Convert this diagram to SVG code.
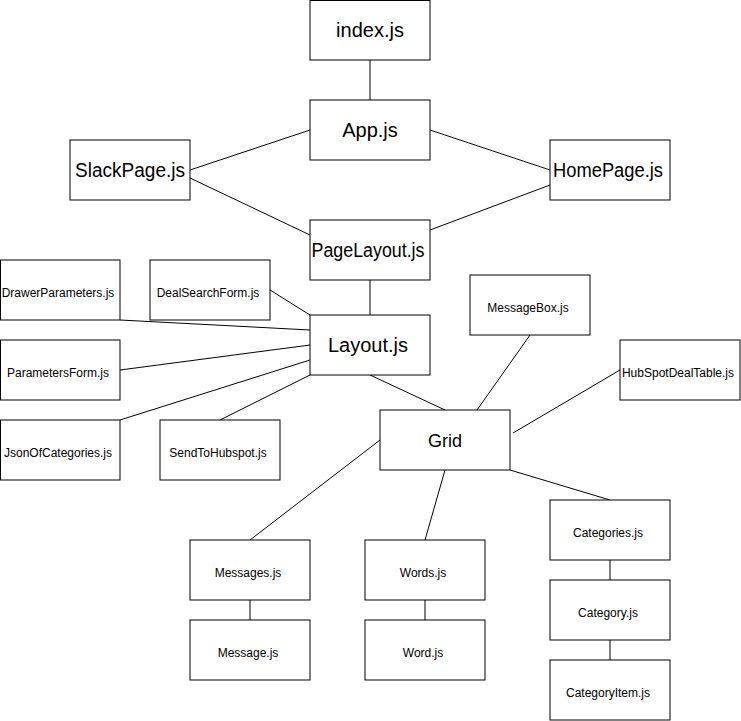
<svg xmlns="http://www.w3.org/2000/svg" width="741" height="721" viewBox="0 0 741 721">
<style>
rect{fill:#fff;stroke:#000;stroke-width:1}
text{font-family:"Liberation Sans",Arial,Helvetica,sans-serif;text-anchor:middle;fill:#000}
.b{font-size:20px}
.s{font-size:12px}
.g{font-size:18px}
#edges line{stroke:#000;stroke-width:1}
</style>
<rect x="0" y="0" width="741" height="721" style="fill:#fff;stroke:none"/>
<g id="edges">
<line x1="370" y1="60" x2="370" y2="100"/>
<line x1="190" y1="170" x2="310" y2="130"/>
<line x1="190" y1="178" x2="310" y2="235"/>
<line x1="430" y1="130" x2="550" y2="170"/>
<line x1="550" y1="185" x2="430" y2="230"/>
<line x1="370" y1="280" x2="370" y2="315"/>
<line x1="270" y1="290" x2="310" y2="315"/>
<line x1="120" y1="320" x2="310" y2="330"/>
<line x1="120" y1="370" x2="310" y2="345"/>
<line x1="120" y1="420" x2="310" y2="360"/>
<line x1="220" y1="420" x2="310" y2="375"/>
<line x1="370" y1="375" x2="445" y2="410"/>
<line x1="530" y1="335" x2="477" y2="410"/>
<line x1="620" y1="370" x2="513" y2="433"/>
<line x1="380" y1="440" x2="250" y2="540"/>
<line x1="445" y1="470" x2="425" y2="540"/>
<line x1="510" y1="470" x2="610" y2="500"/>
<line x1="250" y1="600" x2="250" y2="620"/>
<line x1="425" y1="600" x2="425" y2="620"/>
<line x1="610" y1="560" x2="610" y2="580"/>
<line x1="610" y1="640" x2="610" y2="660"/>
</g>
<g id="index"><rect x="310" y="0.5" width="120" height="59.5"/><text class="b" x="370" y="37">index.js</text></g>
<g id="app"><rect x="310" y="100" width="120" height="60"/><text class="b" x="370" y="137">App.js</text></g>
<g id="slackpage"><rect x="70" y="140" width="120" height="60"/><text class="b" x="130" y="177" textLength="110" lengthAdjust="spacingAndGlyphs">SlackPage.js</text></g>
<g id="homepage"><rect x="550" y="140" width="120" height="60"/><text class="b" x="608" y="177" textLength="110" lengthAdjust="spacingAndGlyphs">HomePage.js</text></g>
<g id="pagelayout"><rect x="310" y="220" width="120" height="60"/><text class="b" x="368" y="257" textLength="113" lengthAdjust="spacingAndGlyphs">PageLayout.js</text></g>
<g id="drawerparameters"><rect x="0.5" y="260" width="119.5" height="60"/><text class="s" x="58" y="297">DrawerParameters.js</text></g>
<g id="dealsearchform"><rect x="150" y="260" width="120" height="60"/><text class="s" x="208" y="297">DealSearchForm.js</text></g>
<g id="messagebox"><rect x="470" y="275" width="120" height="60"/><text class="s" x="528" y="312">MessageBox.js</text></g>
<g id="layout"><rect x="310" y="315" width="120" height="60"/><text class="b" x="368" y="352">Layout.js</text></g>
<g id="hubspotdealtable"><rect x="620" y="340" width="120" height="60"/><text class="s" x="678" y="377">HubSpotDealTable.js</text></g>
<g id="parametersform"><rect x="0.5" y="340" width="119.5" height="60"/><text class="s" x="58" y="377">ParametersForm.js</text></g>
<g id="jsonofcategories"><rect x="0.5" y="420" width="119.5" height="60"/><text class="s" x="58" y="457">JsonOfCategories.js</text></g>
<g id="sendtohubspot"><rect x="160" y="420" width="120" height="60"/><text class="s" x="218" y="457">SendToHubspot.js</text></g>
<g id="grid"><rect x="380" y="410" width="130" height="60"/><text class="g" x="445" y="447">Grid</text></g>
<g id="categories"><rect x="550" y="500" width="120" height="60"/><text class="s" x="608" y="537">Categories.js</text></g>
<g id="messages"><rect x="190" y="540" width="120" height="60"/><text class="s" x="248" y="577">Messages.js</text></g>
<g id="words"><rect x="365" y="540" width="120" height="60"/><text class="s" x="423" y="577">Words.js</text></g>
<g id="category"><rect x="550" y="580" width="120" height="60"/><text class="s" x="608" y="617">Category.js</text></g>
<g id="message"><rect x="190" y="620" width="120" height="60"/><text class="s" x="248" y="657">Message.js</text></g>
<g id="word"><rect x="365" y="620" width="120" height="60"/><text class="s" x="423" y="657">Word.js</text></g>
<g id="categoryitem"><rect x="550" y="660" width="120" height="60"/><text class="s" x="608" y="697">CategoryItem.js</text></g>
</svg>
